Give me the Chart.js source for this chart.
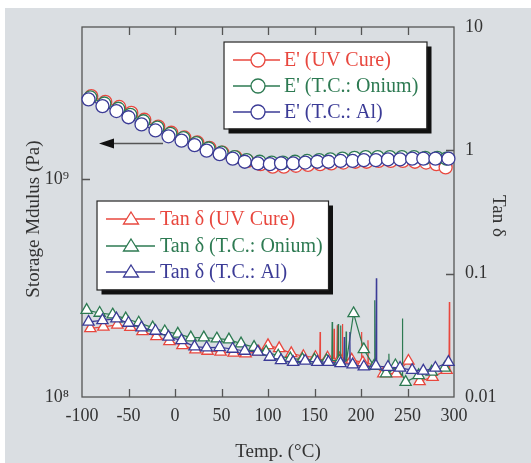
<!DOCTYPE html>
<html>
<head>
<meta charset="utf-8">
<script src="https://cdn.jsdelivr.net/npm/chart.js@4"></script>
<style>
  html, body { margin: 0; padding: 0; background: #fff; }
  canvas { display: block; }
</style>
</head>
<body>
<canvas id="dma" width="531" height="463"></canvas>
<script>
// Storage modulus E' (Pa), left axis
const tempEAl    = [-93, -78, -63, -50, -36, -21, -7, 7, 21, 34, 48, 62, 75, 89, 102, 114, 127, 140, 153, 165, 178, 191, 203, 216, 229, 242, 255, 267, 280, 294];
const eAl        = [2.32e9, 2.16e9, 2.05e9, 1.92e9, 1.78e9, 1.67e9, 1.57e9, 1.50e9, 1.43e9, 1.35e9, 1.30e9, 1.24e9, 1.20e9, 1.18e9, 1.17e9, 1.18e9, 1.18e9, 1.19e9, 1.20e9, 1.20e9, 1.21e9, 1.21e9, 1.22e9, 1.22e9, 1.23e9, 1.23e9, 1.24e9, 1.24e9, 1.24e9, 1.24e9];
const tempEUV    = [-90, -75, -60, -47, -33, -18, -4, 10, 24, 37, 51, 65, 78, 92, 105, 117, 130, 143, 156, 168, 181, 194, 206, 219, 232, 245, 258, 270, 281, 291];
const eUV        = [2.40e9, 2.26e9, 2.14e9, 2.01e9, 1.87e9, 1.74e9, 1.63e9, 1.55e9, 1.47e9, 1.39e9, 1.32e9, 1.26e9, 1.21e9, 1.17e9, 1.14e9, 1.14e9, 1.15e9, 1.16e9, 1.17e9, 1.18e9, 1.19e9, 1.20e9, 1.20e9, 1.21e9, 1.21e9, 1.21e9, 1.20e9, 1.19e9, 1.17e9, 1.13e9];
const tempEOnium = [-91, -76, -61, -48, -34, -19, -5, 9, 23, 36, 50, 64, 77, 91, 104, 116, 129, 142, 155, 167, 180, 193, 205, 218, 231, 244, 257, 269, 282, 292];
const eOnium     = [2.37e9, 2.22e9, 2.10e9, 1.97e9, 1.84e9, 1.72e9, 1.61e9, 1.54e9, 1.46e9, 1.38e9, 1.32e9, 1.26e9, 1.22e9, 1.20e9, 1.19e9, 1.19e9, 1.20e9, 1.21e9, 1.22e9, 1.23e9, 1.24e9, 1.25e9, 1.26e9, 1.26e9, 1.26e9, 1.26e9, 1.26e9, 1.25e9, 1.25e9, 1.24e9];

// Tan delta, right axis (markers)
const tempTanAl    = [-93, -78, -63, -50, -36, -21, -7, 7, 21, 34, 48, 62, 75, 89, 102, 114, 127, 140, 153, 165, 178, 191, 203, 216, 229, 242, 255, 267, 280, 294];
const tanAl        = [0.0406, 0.0418, 0.0432, 0.0398, 0.0365, 0.0343, 0.0307, 0.0288, 0.0256, 0.0251, 0.0253, 0.0245, 0.0236, 0.0232, 0.0211, 0.0198, 0.0192, 0.0196, 0.0192, 0.0192, 0.0187, 0.0183, 0.0176, 0.0179, 0.0175, 0.0172, 0.0165, 0.0163, 0.0172, 0.0192];
const tempTanUV    = [-91, -77, -62, -48, -35, -20, -6, 8, 22, 35, 49, 63, 76, 90, 100, 112, 125, 138, 151, 164, 177, 190, 202, 215, 224, 238, 251, 263, 277, 292];
const tanUV        = [0.0360, 0.0370, 0.0385, 0.0368, 0.0340, 0.0310, 0.0282, 0.0262, 0.0242, 0.0236, 0.0232, 0.0228, 0.0225, 0.0232, 0.0262, 0.0248, 0.0226, 0.0214, 0.0210, 0.0208, 0.0205, 0.0200, 0.0190, 0.0178, 0.0155, 0.0155, 0.0196, 0.0134, 0.0145, 0.0165];
const tempTanOnium = [-95, -81, -67, -53, -39, -24, -11, 3, 17, 31, 45, 58, 71, 85, 98, 111, 124, 137, 150, 163, 177, 192, 203, 214, 227, 237, 248, 262, 276, 290];
const tanOnium     = [0.0506, 0.0480, 0.0465, 0.0432, 0.0400, 0.0365, 0.0340, 0.0325, 0.0303, 0.0303, 0.0297, 0.0292, 0.0271, 0.0254, 0.0232, 0.0216, 0.0205, 0.0202, 0.0200, 0.0198, 0.0195, 0.0476, 0.0243, 0.0178, 0.0155, 0.0180, 0.0132, 0.0150, 0.0160, 0.0172];

// Spikes in tan delta: [temp, peak, baseline]
const spikesUV    = [[156, 0.0336, 0.0200], [171, 0.0358, 0.0205], [174.5, 0.0382, 0.0204], [180, 0.0390, 0.0203], [200.5, 0.0337, 0.0192], [207.5, 0.0288, 0.0188], [295, 0.0589, 0.0163]];
const spikesOnium = [[169, 0.0406, 0.0198], [175.5, 0.0390, 0.0197], [178, 0.0380, 0.0196], [184, 0.0340, 0.0195], [215, 0.0610, 0.0180], [230, 0.0224, 0.0156], [244.5, 0.0433, 0.0150]];
const spikesAl    = [[182, 0.0307, 0.0186], [188, 0.0337, 0.0185], [216.5, 0.0916, 0.0178]];

const xTicks = [-100, -50, 0, 50, 100, 150, 200, 250, 300];
const yTicks = [1e8, 1e9];
const yTickLabels = ['10⁸', '10⁹'];
const y2Ticks = [0.01, 0.1, 1, 10];
const y2TickLabels = ['0.01', '0.1', '1', '10'];

const RED = '#e8473e', GREEN = '#2d7a52', BLUE = '#3b3b96';
const SERIF = '"Liberation Serif", "DejaVu Serif", serif';

function pts(temps, vals) {
    return temps.map((t, i) => ({ x: t, y: vals[i], m: 1 }));
}
function tanPts(temps, vals, spikes) {
    const p = pts(temps, vals);
    spikes.forEach(([t, peak, base]) => {
        p.push({ x: t - 0.4, y: base }, { x: t, y: peak }, { x: t + 0.4, y: base });
    });
    return p.sort((a, b) => a.x - b.x);
}
// lower "order" is drawn on top, so the Al series sits above the others
function ds(label, data, color, axis, style, order) {
    return {
        label, data, yAxisID: axis, order,
        borderColor: color, borderWidth: 1.2,
        backgroundColor: '#fff',
        pointStyle: style,
        pointRadius: c => (c.raw && c.raw.m ? 6.5 : 0),
        pointBorderWidth: 1.3,
        pointBorderColor: color,
        pointBackgroundColor: '#fff',
        tension: 0, clip: false
    };
}

const decor = {
    id: 'decor',
    beforeDraw(chart) {
        const c = chart.ctx;
        c.save();
        c.fillStyle = '#fff';
        c.fillRect(0, 0, chart.width, chart.height);
        c.fillStyle = '#dadee2';
        c.fillRect(5, 8, chart.width - 5, chart.height - 8);
        c.restore();
    },
    beforeDatasetsDraw(chart) {
        const c = chart.ctx, a = chart.chartArea;
        const x = chart.scales.x, y = chart.scales.y, y2 = chart.scales.y2;
        c.save();
        c.strokeStyle = '#555';
        c.lineWidth = 1.3;
        c.strokeRect(a.left, a.top, a.right - a.left, a.bottom - a.top);
        c.beginPath();
        xTicks.slice(1, -1).forEach(v => {
            const px = Math.round(x.getPixelForValue(v)) + 0.5;
            c.moveTo(px, a.bottom); c.lineTo(px, a.bottom - 8);
            c.moveTo(px, a.top); c.lineTo(px, a.top + 8);
        });
        const py = Math.round(y.getPixelForValue(1e9)) + 0.5;
        c.moveTo(a.left, py); c.lineTo(a.left + 8, py);
        [0.1, 1].forEach(v => {
            const p = Math.round(y2.getPixelForValue(v)) + 0.5;
            c.moveTo(a.right, p); c.lineTo(a.right - 8, p);
        });
        c.stroke();
        // arrow pointing to left axis
        c.strokeStyle = '#555';
        c.lineWidth = 1.5;
        c.beginPath();
        c.moveTo(163, 143.5); c.lineTo(110, 143.5);
        c.stroke();
        c.fillStyle = '#111';
        c.beginPath();
        c.moveTo(99, 143.5); c.lineTo(114, 138.5); c.lineTo(114, 148.5);
        c.closePath(); c.fill();
        c.restore();
    },
    afterDraw(chart) {
        const c = chart.ctx;
        const sets = chart.data.datasets;
        c.save();
        function box(x0, y0, x1, y1) {
            c.fillStyle = '#111';
            c.fillRect(x0 + 5, y0 + 5, x1 - x0, y1 - y0);
            c.fillStyle = '#fff';
            c.fillRect(x0, y0, x1 - x0, y1 - y0);
            c.strokeStyle = '#222';
            c.lineWidth = 1.2;
            c.strokeRect(x0 + 0.5, y0 + 0.5, x1 - x0, y1 - y0);
        }
        function entry(d, lx0, lx1, mx, ty, tx) {
            c.strokeStyle = d.borderColor;
            c.lineWidth = 1.3;
            c.beginPath(); c.moveTo(lx0, ty); c.lineTo(lx1, ty); c.stroke();
            c.fillStyle = '#fff';
            c.beginPath();
            if (d.pointStyle === 'circle') {
                c.arc(mx, ty, 7, 0, Math.PI * 2);
            } else {
                c.moveTo(mx, ty - 7); c.lineTo(mx + 7.5, ty + 5); c.lineTo(mx - 7.5, ty + 5); c.closePath();
            }
            c.fill(); c.stroke();
            c.fillStyle = d.borderColor;
            c.font = '20px ' + SERIF;
            c.textBaseline = 'middle';
            c.textAlign = 'left';
            c.fillText(d.label, tx, ty + 1);
        }
        box(223.5, 41.5, 426.5, 128.5);
        [60, 86, 112].forEach((ty, i) => entry(sets[i], 233, 280, 258, ty, 284));
        box(96.5, 200.5, 328, 289.5);
        [219, 246, 272].forEach((ty, i) => entry(sets[i + 3], 106, 155, 131, ty, 160));

        // axis titles
        c.fillStyle = '#333';
        c.font = '19px ' + SERIF;
        c.textAlign = 'center';
        c.textBaseline = 'middle';
        c.fillText('Temp. (°C)', 278, 452);
        c.save();
        c.translate(34, 219);
        c.rotate(-Math.PI / 2);
        c.fillText('Storage Mdulus (Pa)', 0, 0);
        c.restore();
        c.save();
        c.translate(498, 216);
        c.rotate(Math.PI / 2);
        c.fillText('Tan δ', 0, 0);
        c.restore();
        c.restore();
    }
};

const tickFont = { family: SERIF, size: 18 };

new Chart(document.getElementById('dma'), {
    type: 'line',
    data: {
        datasets: [
            ds("E' (UV Cure)", pts(tempEUV, eUV), RED, 'y', 'circle', 6),
            ds("E' (T.C.: Onium)", pts(tempEOnium, eOnium), GREEN, 'y', 'circle', 5),
            ds("E' (T.C.: Al)", pts(tempEAl, eAl), BLUE, 'y', 'circle', 4),
            ds('Tan δ (UV Cure)', tanPts(tempTanUV, tanUV, spikesUV), RED, 'y2', 'triangle', 3),
            ds('Tan δ (T.C.: Onium)', tanPts(tempTanOnium, tanOnium, spikesOnium), GREEN, 'y2', 'triangle', 2),
            ds('Tan δ (T.C.: Al)', tanPts(tempTanAl, tanAl, spikesAl), BLUE, 'y2', 'triangle', 1)
        ]
    },
    options: {
        responsive: false,
        animation: false,
        devicePixelRatio: 1,
        layout: { padding: { top: 27, left: 0, right: 0, bottom: 0 } },
        plugins: { legend: { display: false }, tooltip: { enabled: false } },
        scales: {
            x: {
                type: 'linear', min: -100, max: 300,
                grid: { display: false, drawTicks: false },
                border: { display: false },
                afterBuildTicks: s => { s.ticks = xTicks.map(v => ({ value: v })); },
                afterFit: s => { s.height = 66; },
                ticks: { font: tickFont, color: '#333', padding: 8, maxRotation: 0 }
            },
            y: {
                type: 'logarithmic', position: 'left', min: 1e8, max: 4.98e9,
                grid: { display: false, drawTicks: false },
                border: { display: false },
                afterBuildTicks: s => { s.ticks = yTicks.map(v => ({ value: v })); },
                afterFit: s => { s.width = 82; },
                ticks: {
                    font: tickFont, color: '#333', padding: 13,
                    callback: v => yTickLabels[yTicks.indexOf(v)]
                }
            },
            y2: {
                type: 'logarithmic', position: 'right', min: 0.01, max: 10,
                grid: { display: false, drawTicks: false },
                border: { display: false },
                afterBuildTicks: s => { s.ticks = y2Ticks.map(v => ({ value: v })); },
                afterFit: s => { s.width = 77; },
                ticks: {
                    font: tickFont, color: '#333', padding: 11,
                    callback: v => y2TickLabels[y2Ticks.indexOf(v)]
                }
            }
        }
    },
    plugins: [decor]
});
</script>
</body>
</html>
